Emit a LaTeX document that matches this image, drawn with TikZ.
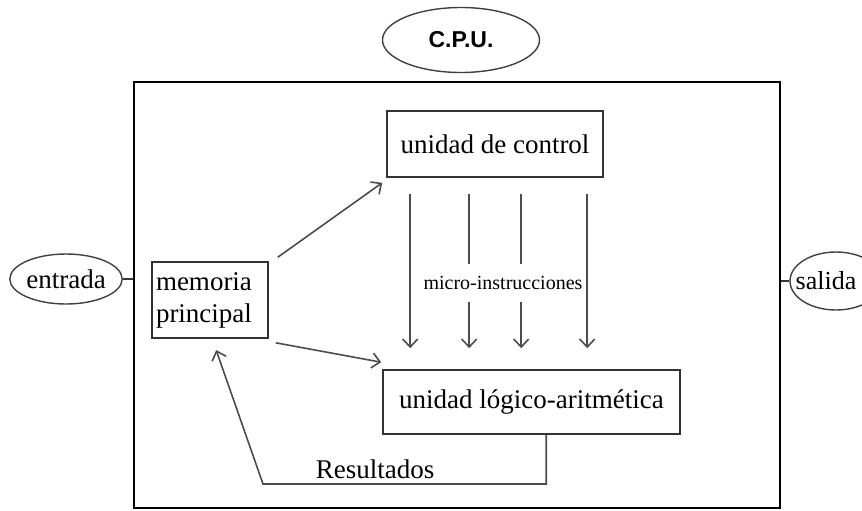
\documentclass[tikz,border=0pt]{standalone}
\usepackage{fontspec}
\setmainfont{Liberation Serif}
\newfontfamily\cpufont{Liberation Sans}
\usetikzlibrary{
    arrows.meta,
    shapes.geometric,
    calc
}

\begin{document}
\begin{tikzpicture}[x=0.5pt, y=-0.5pt,
    box/.style={draw=black!80, line width=0.8pt, inner sep=2pt, font=\fontsize{13.5}{16}\selectfont},
    oval/.style={draw=black!75, ellipse, line width=0.7pt, inner sep=0pt},
    flow/.style={draw=black!70, line width=0.8pt, -{Straight Barb[length=4pt,width=7.5pt]}},
    link/.style={draw=black!80, line width=0.7pt}]
    \useasboundingbox (0,0) rectangle (862,510);

    % C.P.U. title
    \node[oval, minimum width=78.5pt, minimum height=32.5pt, font=\cpufont\bfseries\fontsize{11.5}{13}\selectfont] (cpu) at (461,40) {C.P.U.};

    % outer frame
    \node[draw, line width=1.1pt, minimum width=323pt, minimum height=213pt, inner sep=0pt] (frame) at (457,295) {};

    % input / output
    \node[oval, minimum width=54pt, minimum height=25pt, font=\fontsize{13.5}{16}\selectfont] (entrada) at (66,279) {entrada};
    \node[oval, minimum width=46pt, minimum height=29pt,
          label={[font=\fontsize{13}{15}\selectfont, xshift=-5pt]center:salida}] (salida) at (836,281) {};
    \draw[link] (entrada.east) -- (entrada -| frame.west);
    \draw[link] (salida.west) -- (salida -| frame.east);

    % units
    \node[box, text width=54pt, minimum height=38pt, align=left] (mem) at (210,300) {memoria\\principal};
    \node[box, minimum width=108pt, minimum height=33pt] (ctrl) at (495,144) {unidad de control};
    \node[box, minimum width=148.5pt, minimum height=32pt] (alu) at (531.5,402) {unidad lógico-aritmética};

    % memory to units
    \draw[flow] ([shift={(9,-4)}]mem.north east) -- ([shift={(-4,5)}]ctrl.south west);
    \draw[flow] ([shift={(7,4)}]mem.south east) -- ([shift={(-1,-7)}]alu.north west);

    % micro-instructions
    \foreach \dx in {14,43.5,69.5,102.5} {
        \coordinate (m) at ([xshift=\dx pt]alu.north west);
        \draw[flow, shorten <=8pt, shorten >=10.5pt] (ctrl.south -| m) -- (m);
    }
    \node[fill=white, inner xsep=1pt, inner ysep=6pt, font=\fontsize{10}{12}\selectfont] (micro) at (503,283) {micro-instrucciones};

    % results back to memory
    \coordinate (ret) at (263,484);
    \draw[flow, shorten >=6pt] ([xshift=82pt]alu.south west) |- (ret) -- ([xshift=30.5pt]mem.south west);
    \node[font=\fontsize{13.5}{16}\selectfont] (res) at (375,469) {Resultados};
\end{tikzpicture}
\end{document}
